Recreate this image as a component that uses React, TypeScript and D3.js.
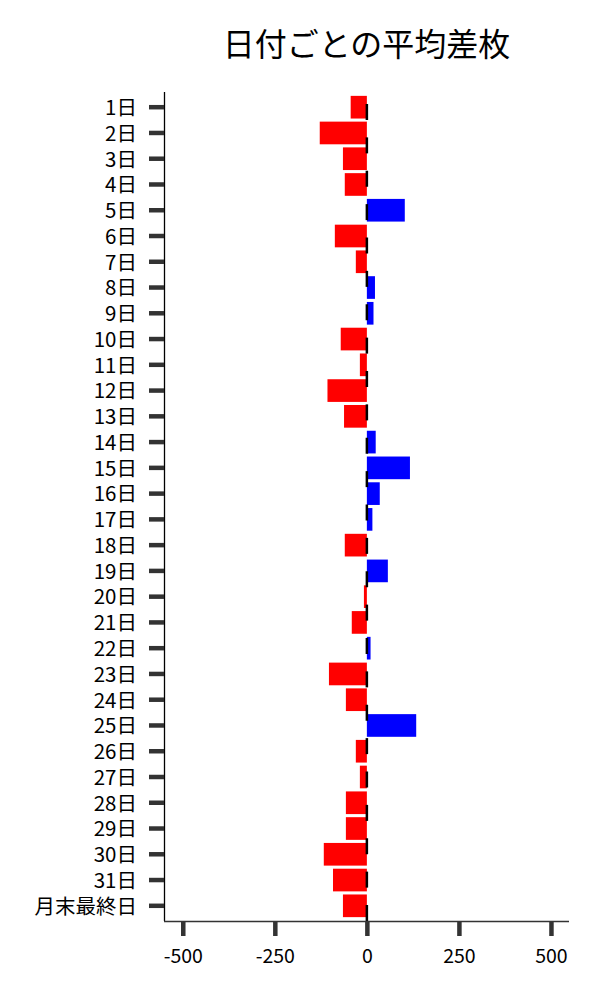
import React, { useEffect, useRef } from 'react';
import * as d3 from 'd3';

const days = [
  '1日', '2日', '3日', '4日', '5日', '6日', '7日', '8日', '9日', '10日',
  '11日', '12日', '13日', '14日', '15日', '16日', '17日', '18日', '19日', '20日',
  '21日', '22日', '23日', '24日', '25日', '26日', '27日', '28日', '29日', '30日',
  '31日', '月末最終日',
];
const avgDiff = [
  -44, -128, -65, -60, 103, -87, -30, 22, 18, -71,
  -19, -107, -62, 24, 117, 35, 15, -60, 57, -8,
  -41, 10, -103, -57, 134, -30, -19, -57, -57, -117,
  -92, -65,
];
const xTicks = [-500, -250, 0, 250, 500];
const title = '日付ごとの平均差枚';

const W = 600;
const H = 1000;
const FONT = '"Noto Sans CJK JP", "Noto Sans", sans-serif';

const App: React.FC = () => {
  const svgRef = useRef<SVGSVGElement>(null);

  useEffect(() => {
    if (!svgRef.current) return;
    const margin = { top: 92, right: 31, bottom: 79, left: 164 };
    const innerW = W - margin.left - margin.right;
    const innerH = H - margin.top - margin.bottom;

    d3.select(svgRef.current).selectAll('*').remove();
    const svg = d3.select(svgRef.current).attr('width', W).attr('height', H);

    svg.append('text')
      .attr('x', margin.left + innerW / 2)
      .attr('y', 56)
      .attr('text-anchor', 'middle')
      .style('font-family', FONT)
      .style('font-size', '32px')
      .attr('fill', '#000')
      .text(title);

    const g = svg.append('g').attr('transform', `translate(${margin.left},${margin.top})`);

    const x = d3.scaleLinear().domain([-551, 549]).range([0, innerW]);
    const y = d3.scaleBand<string>()
      .domain(days)
      .range([0, innerH])
      .paddingInner(0.12)
      .paddingOuter(0.15);

    g.append('clipPath').attr('id', 'plot-clip')
      .append('rect').attr('width', innerW).attr('height', innerH);

    // bars
    g.selectAll('rect.bar')
      .data(days.map((d, i) => ({ day: d, v: avgDiff[i] })))
      .enter()
      .append('rect')
      .attr('class', 'bar')
      .attr('x', d => x(Math.min(0, d.v)))
      .attr('y', d => y(d.day) || 0)
      .attr('width', d => Math.abs(x(d.v) - x(0)))
      .attr('height', y.bandwidth())
      .attr('fill', d => (d.v < 0 ? '#ff0000' : '#0000ff'));

    // short black marks at zero (their spacing differs from the bars)
    const errY = d3.scaleLinear().domain([0, 24]).range([12, 813]);
    g.append('g')
      .attr('clip-path', 'url(#plot-clip)')
      .selectAll('line')
      .data(days.map((_, i) => i))
      .enter()
      .append('line')
      .attr('x1', x(0))
      .attr('x2', x(0))
      .attr('y1', d => errY(d))
      .attr('y2', d => errY(d) + 16)
      .attr('stroke', '#000')
      .attr('stroke-width', 2.5);

    // y axis
    const yAxis = g.append('g')
      .call(d3.axisLeft(y).tickSize(15).tickPadding(12));
    yAxis.select('.domain').attr('d', `M0.5,0V${innerH}`).attr('stroke', '#000').attr('stroke-width', 1.3);
    yAxis.selectAll('.tick line').attr('stroke', '#333').attr('stroke-width', 4.5);
    yAxis.selectAll('.tick text')
      .attr('fill', '#000')
      .attr('dy', '0.38em')
      .style('font-family', FONT)
      .style('font-size', '20.5px');

    // x axis
    const xAxis = g.append('g')
      .attr('transform', `translate(0,${innerH})`)
      .call(d3.axisBottom(x).tickValues(xTicks).tickSize(15).tickPadding(13).tickFormat(d3.format('d')));
    xAxis.select('.domain').attr('d', `M0,0.5H${innerW}`).attr('stroke', '#333').attr('stroke-width', 1.3);
    xAxis.selectAll('.tick line').attr('stroke', '#333').attr('stroke-width', 4.5);
    xAxis.selectAll('.tick text')
      .attr('fill', '#000')
      .style('font-family', FONT)
      .style('font-size', '19.5px')
      .text(d => String(d));
  }, []);

  return (
    <div style={{ position: 'absolute', left: 0, top: 0, width: W, height: H, background: '#fff' }}>
      <svg ref={svgRef}></svg>
    </div>
  );
};

export default App;
